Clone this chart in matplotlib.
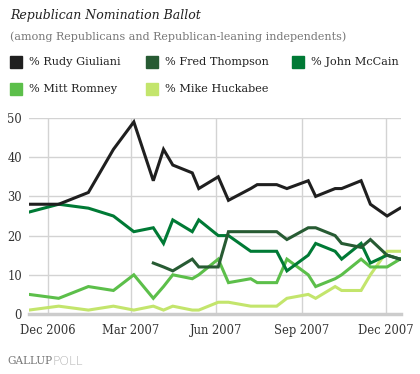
import matplotlib
matplotlib.use('agg')
import matplotlib.pyplot as plt
from matplotlib.patches import Rectangle
import pandas as pd

# poll end dates
dates = pd.to_datetime([
    '2006-11-11', '2006-12-13', '2007-01-14', '2007-02-10', '2007-03-04',
    '2007-03-25', '2007-04-05', '2007-04-15', '2007-05-06', '2007-05-13',
    '2007-06-03', '2007-06-14', '2007-07-08', '2007-07-15', '2007-08-05',
    '2007-08-16', '2007-09-08', '2007-09-16', '2007-10-07', '2007-10-14',
    '2007-11-04', '2007-11-14', '2007-12-02', '2007-12-16'])

nan = float('nan')
giuliani = [28, 28, 31, 42, 49, 34, 42, 38, 36, 32, 35, 29, 32, 33, 33, 32, 34, 30, 32, 32, 34, 28, 25, 27]
thompson = [nan, nan, nan, nan, nan, 13, 12, 11, 14, 12, 12, 21, 21, 21, 21, 19, 22, 22, 20, 18, 17, 19, 15, 14]
mccain = [26, 28, 27, 25, 21, 22, 18, 24, 21, 24, 20, 20, 16, 16, 16, 11, 15, 18, 16, 14, 18, 13, 15, 14]
romney = [5, 4, 7, 6, 10, 4, 7, 10, 9, 10, 14, 8, 9, 8, 8, 14, 10, 7, 9, 10, 14, 12, 12, 14]
huckabee = [1, 2, 1, 2, 1, 2, 1, 2, 1, 1, 3, 3, 2, 2, 2, 4, 5, 4, 7, 6, 6, 10, 16, 16]

names = ['% Rudy Giuliani', '% Fred Thompson', '% John McCain', '% Mitt Romney', '% Mike Huckabee']
colors = ['#1f1f1f', '#275b33', '#007a35', '#5cbf4a', '#c3e56c']
series = [giuliani, thompson, mccain, romney, huckabee]

tick_dates = pd.to_datetime(['2006-12-01', '2007-03-01', '2007-06-01', '2007-09-01', '2007-12-01'])
tick_labels = ['Dec 2006', 'Mar 2007', 'Jun 2007', 'Sep 2007', 'Dec 2007']

W, H = 420.0, 374.0
serif = 'DejaVu Serif'

fig = plt.figure(figsize=(W / 100, H / 100), dpi=100)
ax = fig.add_axes([29 / W, 1 - 314 / H, 372 / W, 196 / H])

# draw order: lighter lines under the darker ones
for i in [4, 3, 2, 1, 0]:
    ax.plot(dates, series[i], color=colors[i], lw=2.2, solid_joinstyle='miter', zorder=3)

ax.set_ylim(0, 50)
ax.set_xlim(pd.Timestamp('2006-11-11'), pd.Timestamp('2007-12-17'))
ax.set_yticks([0, 10, 20, 30, 40, 50])
ax.set_xticks(tick_dates)
ax.set_xticklabels(tick_labels)
ax.grid(True, color='#d3d3d3', lw=1)
ax.set_axisbelow(True)
for s in ['top', 'right', 'left']:
    ax.spines[s].set_visible(False)
ax.spines['bottom'].set_color('#cccccc')
ax.spines['bottom'].set_linewidth(2.5)
ax.tick_params(length=0, labelsize=8.3, colors='#333333')
ax.tick_params(axis='x', pad=7)
ax.tick_params(axis='y', pad=5)
for lab in ax.get_xticklabels() + ax.get_yticklabels():
    lab.set_fontfamily(serif)

fig.text(10 / W, 1 - 15 / H, 'Republican Nomination Ballot', fontsize=9.0, style='italic',
         family=serif, color='#222222', va='center')
fig.text(10 / W, 1 - 37 / H, '(among Republicans and Republican-leaning independents)',
         fontsize=8.0, family=serif, color='#777777', va='center')

# legend
pos = [(10, 62), (146, 62), (292, 62), (10, 89), (146, 89)]
for (px, py), name, c in zip(pos, names, colors):
    fig.patches.append(Rectangle((px / W, 1 - (py + 6) / H), 12 / W, 12 / H,
                                 transform=fig.transFigure, color=c))
    fig.text((px + 19) / W, 1 - py / H, name, fontsize=8.1, family=serif,
             color='#222222', va='center')

fig.text(7 / W, 1 - 361 / H, 'GALLUP', fontsize=7.6, family=serif, color='#777777', va='center')
fig.text(52 / W, 1 - 361 / H, 'POLL', fontsize=8.8, family='DejaVu Sans', color='#b0b0b0',
         va='center', weight='light')

fig.savefig('out.png', dpi=100)
